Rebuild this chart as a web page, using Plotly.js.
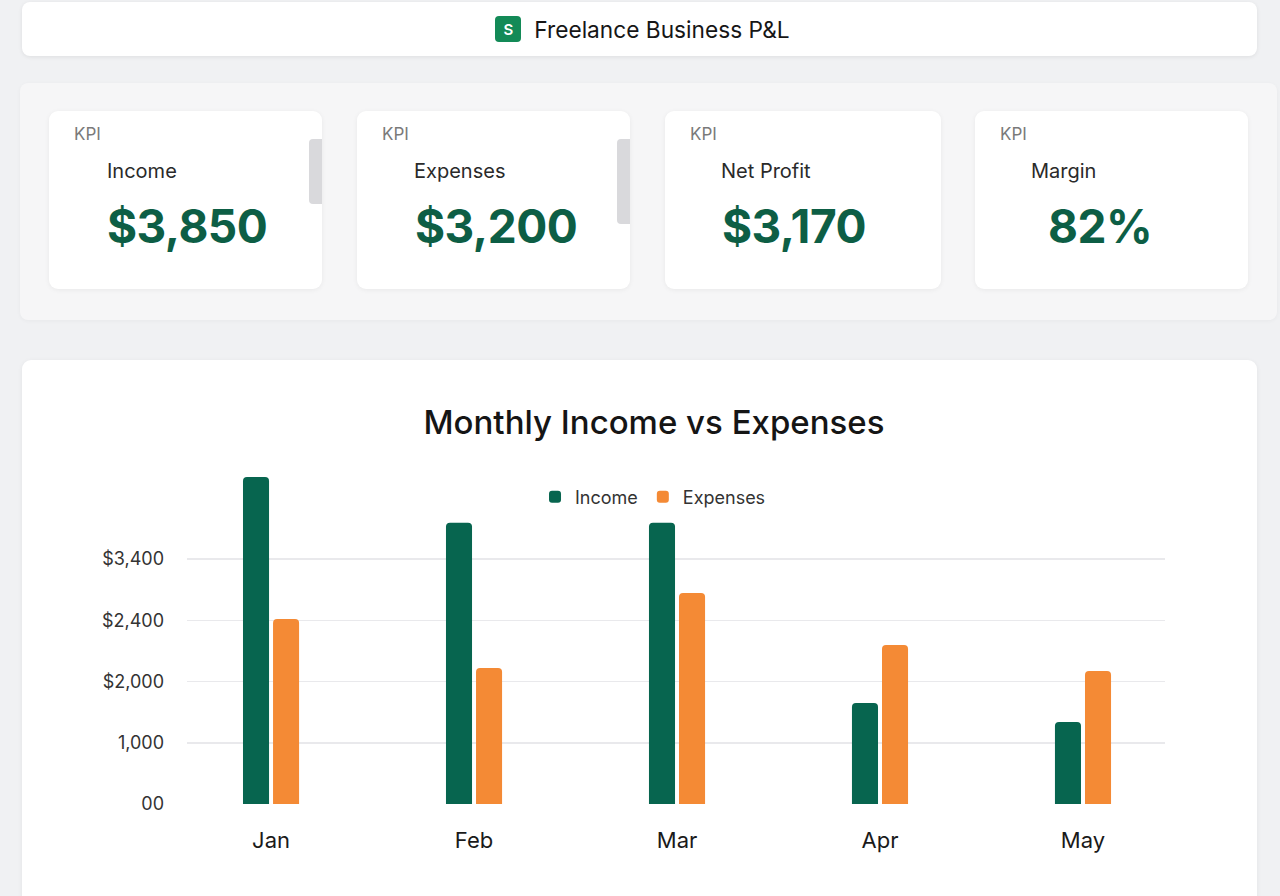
<!DOCTYPE html>
<html>
<head>
<meta charset="utf-8">
<script src="https://cdn.plot.ly/plotly-3.0.1.min.js"></script>
<style>
  body {
    margin: 0;
    width: 1280px;
    height: 896px;
    overflow: hidden;
    background: #f0f1f3;
    font-family: Inter, "Noto Sans", sans-serif;
    position: relative;
  }
  #header {
    position: absolute;
    left: 22px; top: 2px;
    width: 1235px; height: 54px;
    background: #fff;
    border-radius: 8px;
    box-shadow: 0 1px 4px rgba(0,0,0,0.08);
    display: flex;
    align-items: center;
    justify-content: center;
    padding-left: 6px;
    box-sizing: border-box;
    font-size: 22.7px;
    color: #161616;
  }
  #header .icon {
    width: 26px; height: 26px;
    background: #138a57;
    border-radius: 4px;
    color: #fff;
    font-size: 15px;
    font-weight: 600;
    display: flex; align-items: center; justify-content: center;
    margin-right: 13px;
  }
  #kpis {
    position: absolute;
    left: 20px; top: 83px;
    width: 1257px; height: 237px;
    background: #f6f6f7;
    border-radius: 8px;
    box-shadow: 0 1px 4px rgba(0,0,0,0.04);
  }
  .card {
    position: absolute;
    top: 28px;
    height: 178px;
    background: #fff;
    border-radius: 9px;
    box-shadow: 0 1px 5px rgba(0,0,0,0.06);
  }
  .card .tag {
    position: absolute; left: 25px; top: 13px;
    font-size: 17px; color: #7a7a7a;
  }
  .card .label {
    position: absolute; top: 48px;
    font-size: 20px; color: #2a2a2a;
  }
  .card .value {
    position: absolute; top: 87px;
    font-size: 46px; font-weight: 700; color: #0d5e45;
    letter-spacing: -0.5px;
  }
  .card .bar {
    position: absolute; right: 0; top: 28px;
    width: 13px;
    background: #d9d9dc;
    border-radius: 4px 0 0 4px;
  }
  #chartCard {
    position: absolute;
    left: 22px; top: 360px;
    width: 1235px; height: 560px;
    background: #fff;
    border-radius: 9px;
    box-shadow: 0 1px 5px rgba(0,0,0,0.06);
  }
  #graphDiv {
    position: absolute;
    left: 0; top: 0;
    width: 1235px; height: 536px;
  }
</style>
</head>
<body>
<div id="header"><div class="icon">S</div>Freelance Business P&amp;L</div>

<div id="kpis">
  <div class="card" style="left:29px;width:273px">
    <div class="tag">KPI</div>
    <div class="label" style="left:58px">Income</div>
    <div class="value" style="left:58px">$3,850</div>
    <div class="bar" style="height:65px"></div>
  </div>
  <div class="card" style="left:337px;width:273px">
    <div class="tag">KPI</div>
    <div class="label" style="left:57px">Expenses</div>
    <div class="value" style="left:58px">$3,200</div>
    <div class="bar" style="height:85px"></div>
  </div>
  <div class="card" style="left:645px;width:276px">
    <div class="tag">KPI</div>
    <div class="label" style="left:56px">Net Profit</div>
    <div class="value" style="left:57px">$3,170</div>
  </div>
  <div class="card" style="left:955px;width:273px">
    <div class="tag">KPI</div>
    <div class="label" style="left:56px">Margin</div>
    <div class="value" style="left:73px">82%</div>
  </div>
</div>

<div id="chartCard"><div id="graphDiv"></div></div>

<script>
let months = ["Jan", "Feb", "Mar", "Apr", "May"];
let income = [5340, 4590, 4590, 1650, 1340];
let expenses = [3020, 2220, 3445, 2595, 2170];
let tickVals = [0, 1000, 2000, 3000, 4000];
let tickText = ["00", "1,000", "$2,000", "$2,400", "$3,400"];

function drawChart() {
  let incomeTrace = {
    type: "bar",
    name: "Income",
    x: months,
    y: income,
    marker: { color: "#07654f" },
    hoverinfo: "none",
  };
  let expensesTrace = {
    type: "bar",
    name: "Expenses",
    x: months,
    y: expenses,
    marker: { color: "#f48a35" },
    hoverinfo: "none",
  };

  let layout = {
    width: 1235,
    height: 536,
    margin: { l: 165, r: 92, t: 110, b: 92 },
    paper_bgcolor: "rgba(0,0,0,0)",
    plot_bgcolor: "rgba(0,0,0,0)",
    font: { family: "Inter, 'Noto Sans', sans-serif", color: "#222" },
    title: {
      text: "Monthly Income vs Expenses",
      font: { size: 33, color: "#151515", weight: 500 },
      x: 632 / 1235,
      xanchor: "center",
      y: 1 - 62 / 536,
      yanchor: "middle",
    },
    barmode: "group",
    bargap: 0.704,
    bargroupgap: 0.133,
    barcornerradius: 4,
    showlegend: true,
    legend: {
      orientation: "h",
      x: 0.4765,
      xanchor: "center",
      y: 0.919,
      yanchor: "middle",
      font: { size: 18, color: "#333" },
      itemwidth: 30,
      traceorder: "normal",
    },
    xaxis: {
      range: [-0.414, 4.404],
      showgrid: false,
      zeroline: false,
      showline: false,
      tickfont: { size: 22, color: "#1a1a1a" },
      ticklabelstandoff: 21,
      fixedrange: true,
    },
    yaxis: {
      range: [0, 5453],
      tickvals: tickVals,
      ticktext: tickText,
      showgrid: true,
      gridcolor: "#e9e9ec",
      gridwidth: 1.5,
      zeroline: false,
      showline: false,
      tickfont: { size: 18, color: "#333" },
      ticklabelstandoff: 22,
      fixedrange: true,
    },
  };

  Plotly.newPlot("graphDiv", [incomeTrace, expensesTrace], layout, {
    displayModeBar: false,
    staticPlot: true,
  });
}

drawChart();
</script>
</body>
</html>
